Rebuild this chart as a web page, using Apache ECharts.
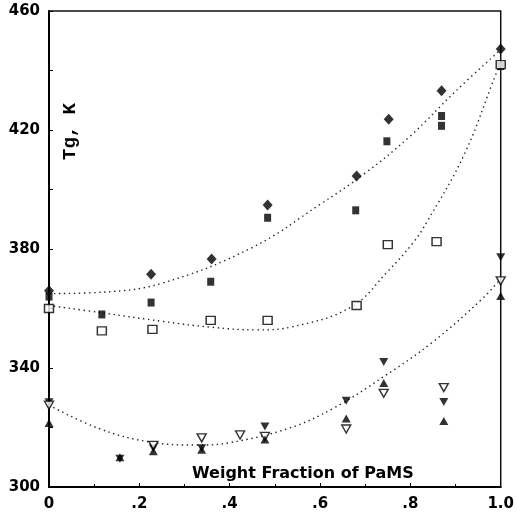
<!DOCTYPE html>
<html>
<head>
<meta charset="utf-8">
<script src="https://cdn.jsdelivr.net/npm/echarts@6/dist/echarts.min.js"></script>
<style>
  html, body { margin: 0; padding: 0; background: #fff; }
  #tg_chart { width: 517px; height: 521px; }
</style>
</head>
<body>
<div id="tg_chart"></div>
<script>
// 读图得到的数据 [weight fraction, Tg]
var diamondPts = [[0, 366], [0.226, 371.5], [0.360, 376.6], [0.484, 394.8], [0.681, 404.5], [0.752, 423.6], [0.869, 433.2], [1.0, 447.2]];
var squarePts  = [[0, 364], [0.117, 358], [0.226, 362], [0.358, 369], [0.484, 390.5], [0.679, 393], [0.748, 416.2], [0.869, 424.7], [0.869, 421.4], [1.0, 441.5]];
var openSqPts  = [[0, 360], [0.117, 352.5], [0.229, 353], [0.358, 356], [0.484, 356], [0.681, 361], [0.750, 381.5], [0.858, 382.5], [1.0, 442]];
var downPts    = [[0, 328.5], [0.157, 309.5], [0.231, 313], [0.338, 313], [0.478, 320.3], [0.658, 329], [0.741, 342], [0.874, 328.6], [1.0, 377.2]];
var openDnPts  = [[0, 327.5], [0.231, 314], [0.338, 316.5], [0.423, 317.5], [0.478, 317], [0.658, 319.5], [0.741, 331.5], [0.874, 333.4], [1.0, 369.3]];
var upPts      = [[0, 321.5], [0.157, 310], [0.231, 312], [0.338, 312.5], [0.478, 316], [0.658, 323], [0.741, 335], [0.874, 322.2], [1.0, 364.2]];

// 拟合曲线(点线)，同样从图上读取
var fitUpper  = [[0, 365], [0.12, 365.5], [0.25, 368.5], [0.45, 380.5], [0.6, 395], [0.7, 405.5], [0.8, 418], [0.9, 433], [1.0, 447]];
var fitMiddle = [[0, 361], [0.12, 358.5], [0.25, 355.7], [0.36, 353.7], [0.46, 352.8], [0.54, 353.9], [0.67, 360.6], [0.75, 372.5], [0.805, 381.9], [0.837, 389.2], [0.92, 412], [0.99, 439], [1.0, 442]];
var fitLower  = [[0, 327.5], [0.11, 319.7], [0.22, 315.2], [0.33, 314.1], [0.4, 314.9], [0.53, 319.7], [0.63, 326.5], [0.74, 337], [0.85, 348.8], [0.96, 363.4], [1.0, 370]];

var xTicks = [0, 0.2, 0.4, 0.6, 0.8, 1.0];
var yTicks = [300, 340, 380, 420, 460];

function fitLine(data) {
    return { type: 'line', data: data, smooth: 0.4, symbol: 'none', silent: true, z: 1,
             lineStyle: { color: '#222', width: 1.4, type: [1.4, 3.6] } };
}

function marks(data, symbol, size, filled, rotate) {
    return { type: 'scatter', data: data, symbol: symbol, symbolSize: size, symbolRotate: rotate || 0,
             clip: false, z: 3,
             itemStyle: { color: filled ? '#000' : '#fff', borderColor: '#000', borderWidth: filled ? 0 : 1.4 } };
}

var myChart = echarts.init(document.getElementById('tg_chart'));
var labelFont = { color: '#000', fontFamily: 'DejaVu Sans', fontWeight: 'bold', fontSize: 15 };

var option = {
    animation: false,
    grid: { left: 49, right: 10, top: 11, bottom: 34, show: true, borderColor: '#111', borderWidth: 1.5, backgroundColor: '#fff' },
    xAxis: {
        type: 'value', min: 0, max: 1, interval: 0.2,
        axisLine: { lineStyle: { color: '#000', width: 2 } },
        axisTick: { inside: true, length: 4, lineStyle: { color: '#000' } },
        minorTick: { show: true, splitNumber: 2, length: 3, lineStyle: { color: '#000' } },
        splitLine: { show: false },
        axisLabel: Object.assign({ margin: 10, formatter: function (v) {
            if (v === 0) return '0';
            if (v === 1) return '1.0';
            return v.toFixed(1).replace('0.', '.');
        } }, labelFont)
    },
    yAxis: {
        type: 'value', min: 300, max: 460, interval: 40,
        axisLine: { lineStyle: { color: '#000', width: 2 } },
        axisTick: { inside: true, length: 4, lineStyle: { color: '#000' } },
        minorTick: { show: true, splitNumber: 2, length: 4, lineStyle: { color: '#000' } },
        splitLine: { show: false },
        axisLabel: Object.assign({ margin: 9 }, labelFont)
    },
    graphic: [
        { type: 'text', left: 61, top: 103, rotation: Math.PI / 2,
          style: { text: 'Tg, K', fill: '#000', font: 'bold 19px "Liberation Mono"' } },
        { type: 'text', left: 192, top: 466,
          style: { text: 'Weight Fraction of PaMS', fill: '#000', font: 'bold 16px "DejaVu Sans"' } }
    ],
    series: [
        fitLine(fitUpper),
        fitLine(fitMiddle),
        fitLine(fitLower),
        marks(diamondPts, 'diamond', [10, 11], true),
        marks(squarePts, 'rect', [7, 8], true),
        marks(openSqPts, 'rect', [9, 8], false),
        marks(downPts, 'triangle', [9, 8], true, 180),
        marks(openDnPts, 'triangle', [9, 8], false, 180),
        marks(upPts, 'triangle', [9, 8], true)
    ]
};
myChart.setOption(option);
window.addEventListener("resize", function() { myChart.resize(); });
</script>
</body>
</html>
